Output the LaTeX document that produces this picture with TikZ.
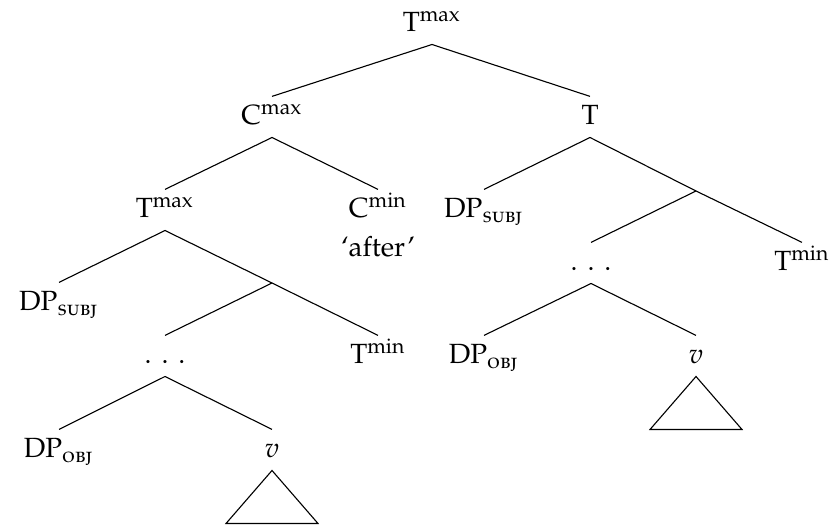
\documentclass[tikz,border=0pt]{standalone}
\usepackage[T1]{fontenc}
\usepackage[sc]{mathpazo}
\usetikzlibrary{positioning}

\tikzset{
    lbl/.style={inner sep=0pt, text height=10.1pt, text depth=4.3pt, anchor=base},
}
\newcommand{\wdots}{.\hspace{3.6pt}.\hspace{3.6pt}.}

\begin{document}
\begin{tikzpicture}[x=0.36pt, y=-0.36pt]
    \useasboundingbox (0,0) rectangle (838,525);
    % top of the tree
    \node[lbl] (root) at (432,32) {T\textsuperscript{max}};
    \node[lbl] (cmax) at (272,125) {C\textsuperscript{max}};
    \node[lbl] (t) at (590,125) {T};
    % left branch
    \node[lbl] (tmaxl) at (165,218) {T\textsuperscript{max}};
    \node[lbl] (cmin) at (378,218) {C\textsuperscript{min}};
    \node[anchor=base, inner sep=0pt] (after) at (378,257) {`after'};
    \node[lbl] (subjl) at (59,311) {DP\textsubscript{\textsc{subj}}};
    \coordinate (xl) at (272,283);
    \node[lbl] (dotsl) at (165,364) {\wdots};
    \node[lbl] (tminl) at (378,364) {T\textsuperscript{min}};
    \node[lbl] (objl) at (59,458) {DP\textsubscript{\textsc{obj}}};
    \node[lbl] (vl) at (272,458) {\textit{v}};
    % right branch
    \node[lbl] (subjr) at (484,218) {DP\textsubscript{\textsc{subj}}};
    \coordinate (xr) at (696,191);
    \node[lbl] (dotsr) at (591,271) {\wdots};
    \node[lbl] (tminr) at (802,271) {T\textsuperscript{min}};
    \node[lbl] (objr) at (484,364) {DP\textsubscript{\textsc{obj}}};
    \node[lbl] (vr) at (696,364) {\textit{v}};

    \foreach \a/\b in {root/cmax, root/t, cmax/tmaxl, cmax/cmin, t/subjr,
                       tmaxl/subjl, dotsl/objl, dotsl/vl, dotsr/objr, dotsr/vr}
        \draw (\a.south) -- (\b.north);
    \draw (tmaxl.south) -- (xl) -- (tminl.north);
    \draw (xl) -- (dotsl.north);
    \draw (t.south) -- (xr) -- (tminr.north);
    \draw (xr) -- (dotsr.north);

    % triangles under v
    \draw (vl.south) -- ++(-46,53) -- ++(92,0) -- cycle;
    \draw (vr.south) -- ++(-46,53) -- ++(92,0) -- cycle;
\end{tikzpicture}
\end{document}
